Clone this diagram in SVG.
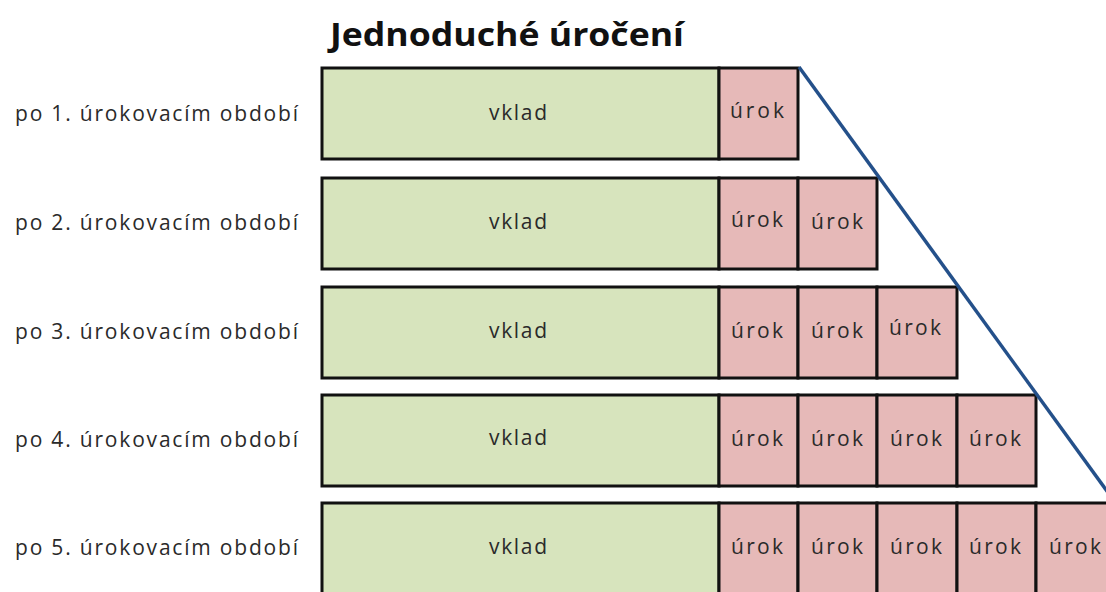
<svg xmlns="http://www.w3.org/2000/svg" width="1106" height="592" viewBox="0 0 1106 592">
<style>
.bg{fill:#ffffff}
.v{fill:#d7e4bd;stroke:#111;stroke-width:3}
.u{fill:#e6b9b8;stroke:#111;stroke-width:3}
.t{font-family:"Open Sans","Liberation Sans",sans-serif;font-size:21px;fill:#2a2a2a;text-anchor:middle;dominant-baseline:central}
.l{font-family:"Open Sans","Liberation Sans",sans-serif;font-size:21px;fill:#2a2a2a;dominant-baseline:central}
.title{font-family:"Open Sans","Liberation Sans",sans-serif;font-size:33px;font-weight:bold;fill:#111;text-anchor:middle}
.line{stroke:#24508a;stroke-width:3.5;fill:none}
</style>
<rect class="bg" x="0" y="0" width="1106" height="592"/>
<text class="title" x="507" y="46" textLength="354" lengthAdjust="spacingAndGlyphs">Jednoduché úročení</text>
<g id="row1">
<text class="l" x="15" y="113" textLength="283">po 1. úrokovacím období</text>
<rect class="v" x="322" y="68" width="397" height="91"/>
<text class="t" x="518" y="112" textLength="58">vklad</text>
<rect class="u" x="719" y="68" width="79" height="91"/>
<text class="t" x="757" y="110" textLength="54">úrok</text>
</g>
<g id="row2">
<text class="l" x="15" y="222" textLength="283">po 2. úrokovacím období</text>
<rect class="v" x="322" y="178" width="397" height="91"/>
<text class="t" x="518" y="221" textLength="58">vklad</text>
<rect class="u" x="719" y="178" width="79" height="91"/>
<text class="t" x="757" y="219" textLength="52">úrok</text>
<rect class="u" x="798" y="178" width="79" height="91"/>
<text class="t" x="837" y="221" textLength="52">úrok</text>
</g>
<g id="row3">
<text class="l" x="15" y="331" textLength="283">po 3. úrokovacím období</text>
<rect class="v" x="322" y="287" width="397" height="91"/>
<text class="t" x="518" y="330" textLength="58">vklad</text>
<rect class="u" x="719" y="287" width="79" height="91"/>
<text class="t" x="757" y="330" textLength="52">úrok</text>
<rect class="u" x="798" y="287" width="79" height="91"/>
<text class="t" x="837" y="330" textLength="52">úrok</text>
<rect class="u" x="877" y="287" width="80" height="91"/>
<text class="t" x="915" y="327" textLength="52">úrok</text>
</g>
<g id="row4">
<text class="l" x="15" y="439" textLength="283">po 4. úrokovacím období</text>
<rect class="v" x="322" y="395" width="397" height="91"/>
<text class="t" x="518" y="437" textLength="58">vklad</text>
<rect class="u" x="719" y="395" width="79" height="91"/>
<text class="t" x="757" y="438" textLength="52">úrok</text>
<rect class="u" x="798" y="395" width="79" height="91"/>
<text class="t" x="837" y="438" textLength="52">úrok</text>
<rect class="u" x="877" y="395" width="80" height="91"/>
<text class="t" x="916" y="438" textLength="52">úrok</text>
<rect class="u" x="957" y="395" width="79" height="91"/>
<text class="t" x="995" y="438" textLength="52">úrok</text>
</g>
<g id="row5">
<text class="l" x="15" y="547" textLength="283">po 5. úrokovacím období</text>
<rect class="v" x="322" y="503" width="397" height="100"/>
<text class="t" x="518" y="546" textLength="58">vklad</text>
<rect class="u" x="719" y="503" width="79" height="100"/>
<text class="t" x="757" y="546" textLength="52">úrok</text>
<rect class="u" x="798" y="503" width="79" height="100"/>
<text class="t" x="837" y="546" textLength="52">úrok</text>
<rect class="u" x="877" y="503" width="80" height="100"/>
<text class="t" x="916" y="546" textLength="52">úrok</text>
<rect class="u" x="957" y="503" width="79" height="100"/>
<text class="t" x="995" y="546" textLength="52">úrok</text>
<rect class="u" x="1036" y="503" width="79" height="100"/>
<text class="t" x="1075" y="546" textLength="52">úrok</text>
</g>
<g id="connectors">
<line class="line" x1="799" y1="67" x2="1117" y2="505"/>
</g>
</svg>
